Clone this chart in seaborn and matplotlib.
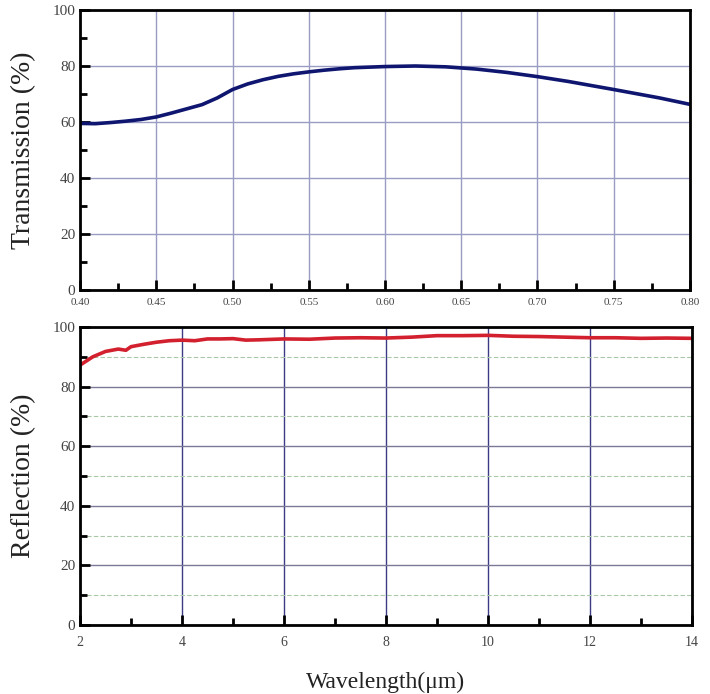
import numpy as np
import pandas as pd
import matplotlib
matplotlib.use("Agg")
import matplotlib.pyplot as plt
import seaborn as sns
from matplotlib.ticker import MultipleLocator

# visible-range transmission
trans_wl = [0.40, 0.41, 0.42, 0.43, 0.44, 0.45, 0.46, 0.47, 0.48, 0.49,
            0.50, 0.51, 0.52, 0.53, 0.54, 0.55, 0.56, 0.57, 0.58, 0.59,
            0.60, 0.62, 0.64, 0.65, 0.66, 0.68, 0.70, 0.72, 0.75, 0.78, 0.80]
trans_pct = [59.5, 59.4, 59.8, 60.3, 60.9, 61.8, 63.2, 64.7, 66.2, 68.6,
             71.6, 73.6, 75.1, 76.3, 77.2, 77.9, 78.5, 79.0, 79.4, 79.6,
             79.8, 80.0, 79.7, 79.3, 78.9, 77.7, 76.2, 74.5, 71.6, 68.6, 66.3]

# infrared reflection
refl_wl = [2.0, 2.25, 2.5, 2.75, 2.9, 3.0, 3.25, 3.5, 3.75, 4.0, 4.25, 4.5,
           4.75, 5.0, 5.25, 5.5, 6.0, 6.5, 7.0, 7.5, 8.0, 8.5, 9.0, 9.5,
           10.0, 10.5, 11.0, 11.5, 12.0, 12.5, 13.0, 13.5, 14.0]
refl_pct = [87.2, 90.0, 91.8, 92.6, 92.2, 93.4, 94.2, 94.9, 95.4, 95.6, 95.4, 96.0,
            96.0, 96.1, 95.6, 95.7, 96.0, 95.9, 96.3, 96.4, 96.3, 96.6, 97.1, 97.1,
            97.2, 96.9, 96.8, 96.6, 96.4, 96.4, 96.2, 96.3, 96.2]

trans_df = pd.DataFrame({"wl": trans_wl, "T": trans_pct})
refl_df = pd.DataFrame({"wl": refl_wl, "R": refl_pct})

sns.set_style("white")
plt.rcParams["font.family"] = ["Liberation Serif", "DejaVu Serif"]

fig = plt.figure(figsize=(7.1, 6.94), dpi=100)
ax1 = fig.add_axes([0.1127, 0.5821, 0.8591, 0.4035])
ax2 = fig.add_axes([0.1127, 0.0994, 0.8619, 0.4294])


def style_axes(ax):
    for s in ax.spines.values():
        s.set_color("black")
        s.set_linewidth(2)
    ax.tick_params(which="both", direction="in", bottom=True, left=True,
                   top=False, right=False, width=2, colors="black",
                   labelcolor="#444444", labelsize=11)
    ax.tick_params(which="major", length=7)
    ax.tick_params(which="minor", length=5)
    ax.set_ylim(0, 100)
    ax.yaxis.set_major_locator(MultipleLocator(20))
    ax.yaxis.set_minor_locator(MultipleLocator(10))


# upper panel
sns.lineplot(data=trans_df, x="wl", y="T", ax=ax1, color="#0f1670", linewidth=2.6)
style_axes(ax1)
ax1.set_xlim(0.40, 0.80)
ax1.xaxis.set_major_locator(MultipleLocator(0.05))
ax1.xaxis.set_minor_locator(MultipleLocator(0.025))
ax1.xaxis.set_major_formatter(plt.FormatStrFormatter("%.2f"))
ax1.tick_params(axis="x", labelsize=8, pad=6)
ax1.grid(True, which="major", color="#9a9cc4", linewidth=1)
ax1.set_axisbelow(True)
ax1.set_xlabel("")
ax1.set_ylabel("Transmission (%)", fontsize=20, color="#222222")

# lower panel
sns.lineplot(data=refl_df, x="wl", y="R", ax=ax2, color="#d3202e", linewidth=2.6)
style_axes(ax2)
ax2.set_xlim(2, 14)
ax2.xaxis.set_major_locator(MultipleLocator(2))
ax2.xaxis.set_minor_locator(MultipleLocator(1))
ax2.tick_params(axis="x", labelsize=10, pad=8)
ax2.xaxis.grid(True, which="major", color="#3c3c86", linewidth=1)
ax2.yaxis.grid(True, which="major", color="#7a7a96", linewidth=1)
ax2.yaxis.grid(True, which="minor", color="#a8c8a8", linewidth=0.8, linestyle=(0, (4, 2)))
ax2.set_axisbelow(True)
ax2.set_xlabel("Wavelength(μm)", fontsize=17, color="#222222", labelpad=16)
ax2.set_ylabel("Reflection (%)", fontsize=20, color="#222222")

ax1.yaxis.set_label_coords(-0.072, 0.5)
ax2.yaxis.set_label_coords(-0.072, 0.5)

fig.savefig("out.png", dpi=100)
